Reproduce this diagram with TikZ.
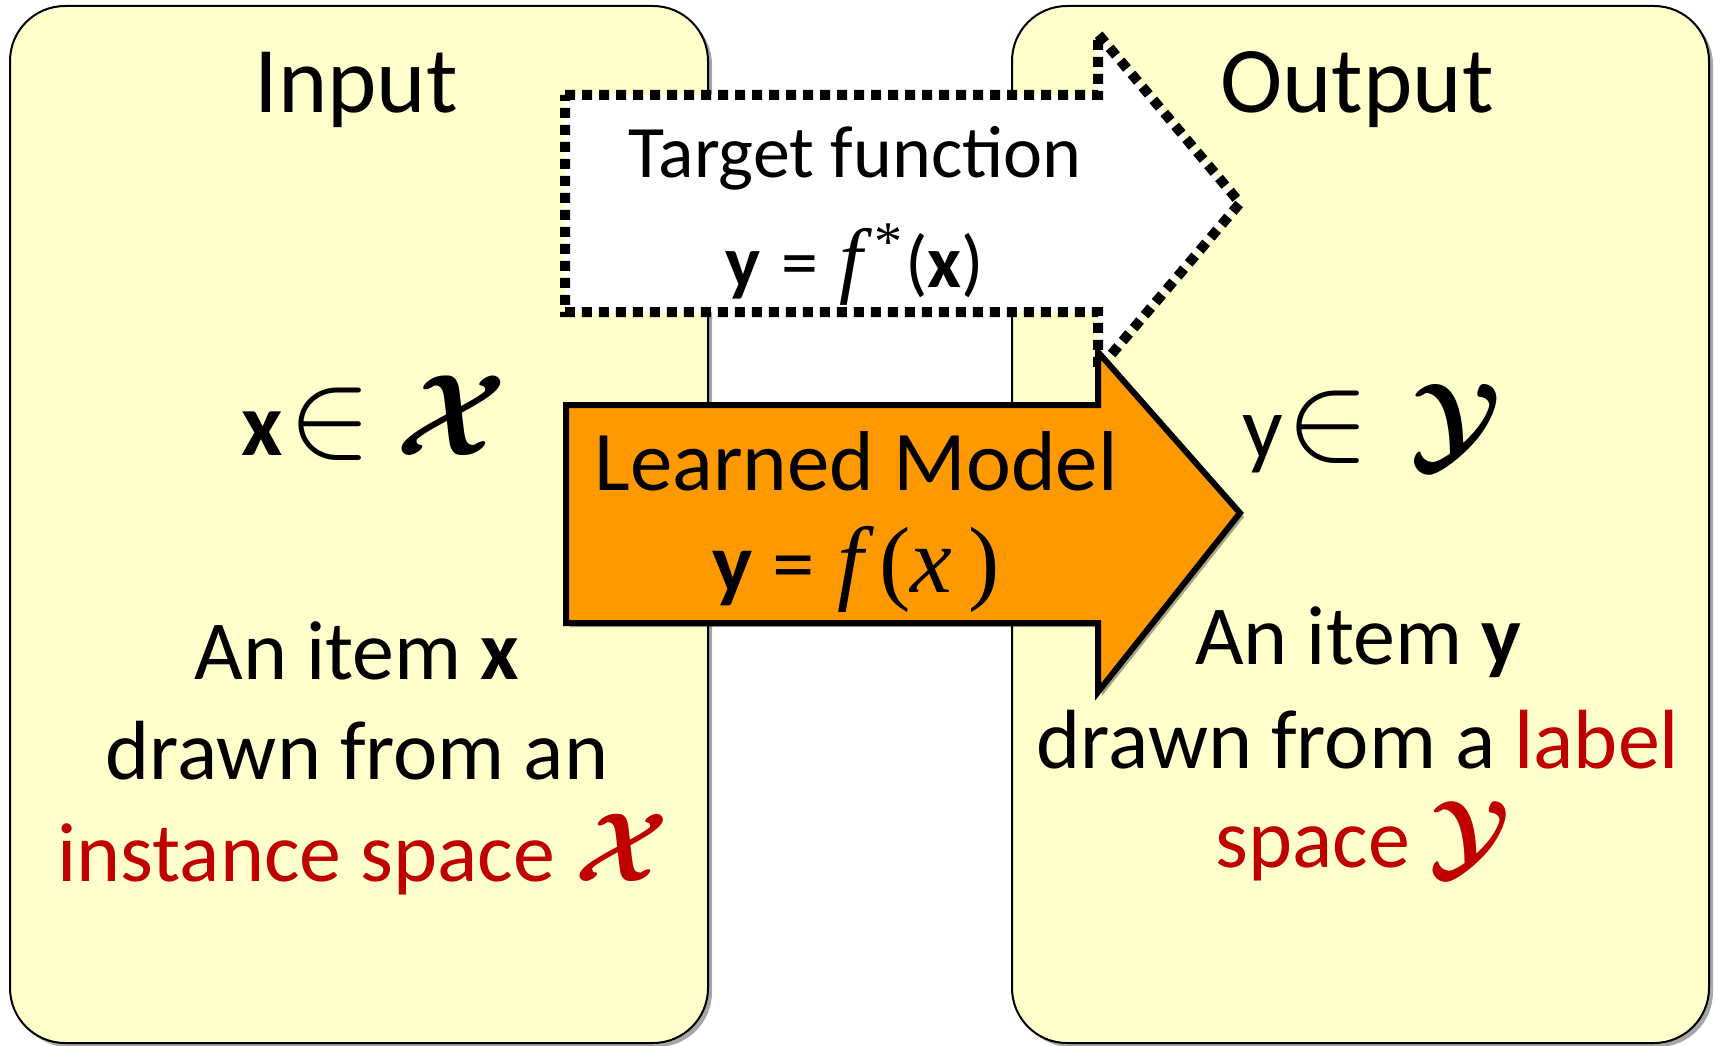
\RequirePackage{fix-cm}
\documentclass[tikz,border=0pt]{standalone}
\usepackage{amsmath,bm}
\usepackage{fontspec}
\setmainfont{Carlito}
\newfontfamily\mserif{Liberation Serif}
\usetikzlibrary{shadows}
\definecolor{panelfill}{HTML}{FFFFCC}
\definecolor{arroworange}{HTML}{FF9900}
\definecolor{darkred}{HTML}{C00000}
\newcommand{\scrX}{{\fontsize{98}{98}\selectfont$\bm{\mathcal{X}}$}}
\newcommand{\scrY}{{\fontsize{96}{96}\selectfont\smash{$\bm{\mathcal{Y}}$}}}
\newcommand{\scrXbig}{{\fontsize{116}{116}\selectfont$\bm{\mathcal{X}}$}}
\newcommand{\scrYbig}{{\fontsize{108}{108}\selectfont$\bm{\mathcal{Y}}$}}
\newcommand{\bigin}{{\fontsize{125}{125}\selectfont$\in$}}
\tikzset{
  panel/.style={draw=black, line width=2pt, fill=panelfill, rounded corners=55pt,
    drop shadow={shadow xshift=4pt, shadow yshift=-4pt, fill=black, opacity=0.35}},
  targetarrow/.style={draw=black, fill=white, line width=10pt, dash pattern=on 10pt off 7pt},
  modelarrow/.style={draw=black, fill=arroworange, line width=6pt, miter limit=10,
    drop shadow={shadow xshift=4pt, shadow yshift=-4pt, fill=black, opacity=0.35}},
  title/.style={anchor=base, inner sep=0pt, font=\fontsize{94}{113}\selectfont},
  item/.style={anchor=base, inner sep=0pt, font=\fontsize{84}{101}\selectfont},
  member/.style={anchor=base west, inner sep=0pt, font=\fontsize{90}{106}\selectfont},
  arrowtxt/.style={anchor=base, inner sep=0pt, font=\fontsize{74}{89}\selectfont},
  modeltxt/.style={anchor=base, inner sep=0pt, font=\fontsize{85}{102}\selectfont},
}
\begin{document}
\begin{tikzpicture}[x=1pt,y=-1pt]
\useasboundingbox (0,0) rectangle (1716,1046);
% panels
\path[panel] (10,6) rectangle (708,1043);
\path[panel] (1012,6) rectangle (1709,1043);
% target function (dotted arrow)
\path[targetarrow] (565,95) -- (1098,95) -- (1098,34) -- (1240,203) -- (1098,370) -- (1098,312) -- (565,312) -- cycle;
% learned model (orange arrow)
\path[modelarrow] (566,405) -- (1098,405) -- (1098,352) -- (1240,513) -- (1098,692) -- (1098,623) -- (566,623) -- cycle;
% titles
\node[title] (inp) at (356,113) {Input};
\node[title] (outp) at (1357,113) {Output};
% arrow texts
\node[arrowtxt] (tf) at (855,178) {Target function};
\node[arrowtxt] (tfeq) at (855,287) {\textbf{y}\hspace{4pt} = \hspace{4pt}{\mserif\fontsize{84}{84}\selectfont\itshape f}\hspace{12pt}\raisebox{.36em}{\mserif\fontsize{56}{56}\selectfont *}\hspace{3pt}(\textbf{x})};
\node[modeltxt] (lm) at (856,490) {Learned Model};
\node[modeltxt] (lmeq) at (856,592) {\textbf{y} = \hspace{4pt}{\mserif\fontsize{94}{94}\selectfont\itshape f\,\upshape(\itshape x\,\upshape)}};
% membership
\node[member] (xin) at (241,455) {\textbf{x}\hspace{6pt}\bigin\hspace{24pt}\scrXbig};
\node[member] (yin) at (1242,458) {y\hspace{4pt}\bigin\hspace{40pt}\scrYbig};
% descriptions left
\node[item] (l1) at (357,679) {An item \textbf{x}};
\node[item] (l2) at (357,779) {drawn from an};
\node[item, text=darkred] (l3) at (363,881) {instance space \scrX};
% descriptions right
\node[item] (r1) at (1358,664) {An item \textbf{y}};
\node[item] (r2) at (1358,768) {drawn from a \textcolor{darkred}{label}};
\node[item, text=darkred] (r3) at (1363,867) {space \scrY};
\end{tikzpicture}
\end{document}
